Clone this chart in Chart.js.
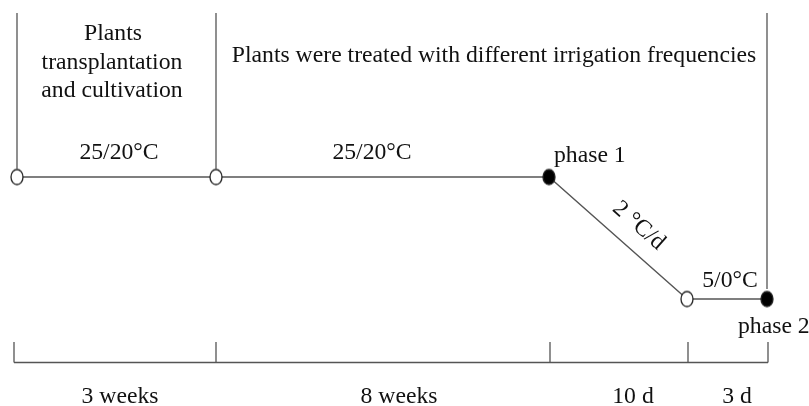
<!DOCTYPE html>
<html>
<head>
<meta charset="utf-8">
<script src="https://cdn.jsdelivr.net/npm/chart.js@4.4.1/dist/chart.umd.min.js"></script>
<style>
  html, body { margin: 0; padding: 0; background: #fff; }
  #wrap { width: 809px; height: 406px; }
</style>
</head>
<body>
<div id="wrap"><canvas id="timeline"></canvas></div>
<script>
// schematic positions of the stage nodes along the timeline
const stageX = [17, 216, 549, 687, 767];
// day/night temperature (day value) at each node
const stageTemp = [25, 25, 25, 5, 5];
// sampling points are drawn filled
const stageFilled = [false, false, true, false, true];
// bracket ticks below the timeline
const bracketX = [14, 216, 550, 688, 768];
const durationLabels = ['3 weeks', '8 weeks', '10 d', '3 d'];
const durationCenters = [120, 399, 633, 737];
// temperature labels over segments
const tempLabels = ['25/20\u00B0C', '25/20\u00B0C', '5/0\u00B0C'];
const tempLabelX = [119, 372, 730];
const tempLabelTemp = [29.0, 29.0, 8.0];

const lineColor = '#555';
const textColor = '#111';
const serif = '"Liberation Serif", "DejaVu Serif", serif';

function ellipseMarker(fill) {
    const c = document.createElement('canvas');
    c.width = 16; c.height = 19;
    const g = c.getContext('2d');
    g.beginPath();
    g.ellipse(8, 9.5, 6, 7.5, 0, 0, Math.PI * 2);
    g.fillStyle = fill ? '#000' : '#fff';
    g.fill();
    g.lineWidth = 1.3;
    g.strokeStyle = '#222';
    g.stroke();
    return c;
}
const openMark = ellipseMarker(false);
const fullMark = ellipseMarker(true);

const textPlugin = {
    id: 'schemeText',
    afterDatasetsDraw(chart) {
        const ctx = chart.ctx;
        const x = chart.scales.x;
        const y = chart.scales.y;
        const nodeY = stageTemp.map(t => y.getPixelForValue(t));
        const px = v => x.getPixelForValue(v);

        ctx.save();
        ctx.strokeStyle = lineColor;
        ctx.lineWidth = 1.3;

        // vertical dividers of the header
        ctx.beginPath();
        ctx.moveTo(px(stageX[0]), 13); ctx.lineTo(px(stageX[0]), nodeY[0] - 7);
        ctx.moveTo(px(stageX[1]), 13); ctx.lineTo(px(stageX[1]), nodeY[1] - 7);
        ctx.moveTo(px(stageX[4]), 13); ctx.lineTo(px(stageX[4]), nodeY[4] - 10);
        ctx.stroke();

        // duration bracket
        const baseY = 362.5;
        ctx.beginPath();
        ctx.moveTo(px(bracketX[0]), baseY);
        ctx.lineTo(px(bracketX[bracketX.length - 1]), baseY);
        bracketX.forEach(b => {
            ctx.moveTo(px(b), baseY);
            ctx.lineTo(px(b), 342);
        });
        ctx.stroke();

        ctx.fillStyle = textColor;
        ctx.font = '23.7px ' + serif;
        ctx.textBaseline = 'middle';
        ctx.textAlign = 'center';

        ctx.fillText('Plants', 113, 34);
        ctx.fillText('transplantation', 112, 63);
        ctx.fillText('and cultivation', 112, 91);
        ctx.fillText('Plants were treated with different irrigation frequencies', 494, 56);

        tempLabels.forEach((t, i) => {
            ctx.fillText(t, px(tempLabelX[i]), y.getPixelForValue(tempLabelTemp[i]));
        });

        durationLabels.forEach((d, i) => {
            ctx.fillText(d, px(durationCenters[i]), 397);
        });

        ctx.textAlign = 'left';
        ctx.fillText('phase 1', px(stageX[2]) + 5, nodeY[2] - 21);
        ctx.fillText('phase 2', px(stageX[4]) - 29, nodeY[4] + 28);

        // cooling-rate label along the ramp
        const x1 = px(stageX[2]), y1 = nodeY[2];
        const x2 = px(stageX[3]), y2 = nodeY[3];
        const ang = Math.atan2(y2 - y1, x2 - x1);
        const len = Math.hypot(x2 - x1, y2 - y1);
        const along = len * 0.54, off = 23;
        const cx = x1 + Math.cos(ang) * along + Math.sin(ang) * off;
        const cy = y1 + Math.sin(ang) * along - Math.cos(ang) * off;
        ctx.translate(cx, cy);
        ctx.rotate(ang);
        ctx.textAlign = 'center';
        ctx.fillText('2 \u00B0C/d', 0, 0);
        ctx.restore();
    }
};

new Chart(document.getElementById('timeline'), {
    type: 'line',
    data: {
        datasets: [{
            data: stageX.map((v, i) => ({ x: v, y: stageTemp[i] })),
            borderColor: lineColor,
            borderWidth: 1.3,
            tension: 0,
            clip: false,
            pointStyle: stageFilled.map(f => f ? fullMark : openMark),
            pointRadius: 7,
            pointHoverRadius: 7
        }]
    },
    options: {
        responsive: true,
        maintainAspectRatio: false,
        animation: false,
        layout: { padding: 0, autoPadding: false },
        plugins: {
            legend: { display: false },
            tooltip: { enabled: false }
        },
        scales: {
            x: { type: 'linear', display: false, min: 0, max: 809 },
            y: { type: 'linear', display: false, min: -12.54, max: 54.02 }
        }
    },
    plugins: [textPlugin]
});
</script>
</body>
</html>
